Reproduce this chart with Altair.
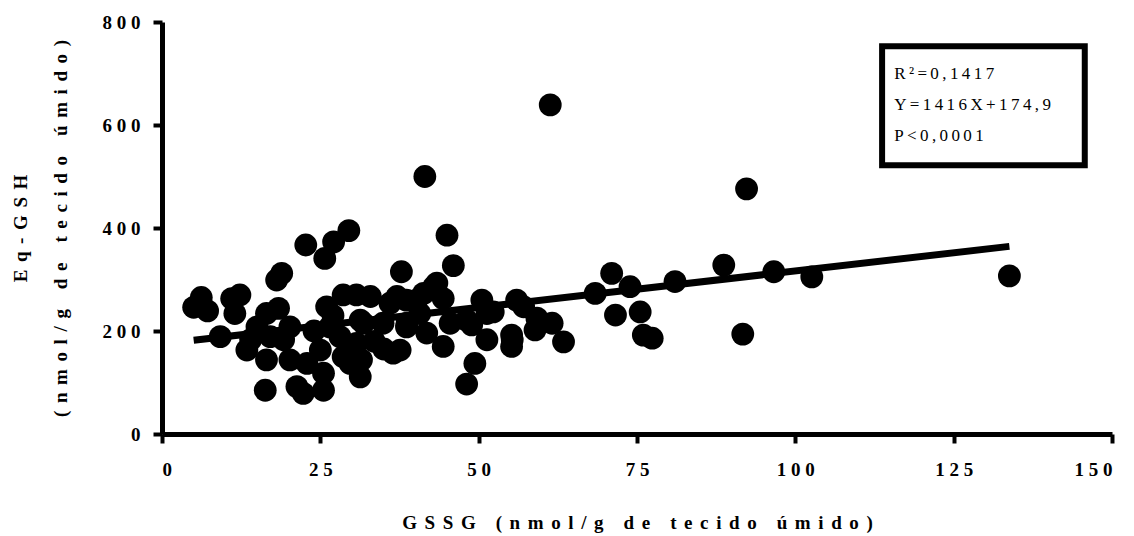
import altair as alt
import pandas as pd

# GSSG (x) and Eq-GSH (y) per sample, nmol/g of wet tissue
gssg = [
    5.0, 6.2, 7.2, 9.2, 11.0, 12.3, 11.5, 18.9, 18.1, 16.3, 13.4, 15.0, 16.5,
    18.4, 16.5, 14.0, 17.1, 19.2,
    20.2, 20.2, 21.3, 22.3, 22.7, 22.9, 25.5, 25.7, 27.1, 29.5, 26.0, 28.6,
    30.7, 26.5, 25.0, 25.5, 28.6, 29.7, 28.1, 30.7, 31.3, 24.0, 27.0,
    32.9, 31.8, 34.9, 36.5, 37.1, 38.7, 36.0, 37.8, 41.5, 45.0, 46.0, 41.3,
    43.4, 44.4, 38.6, 40.7, 41.8, 44.4, 45.5, 37.6, 38.6, 42.9, 40.2, 31.3,
    31.5, 33.5, 35.0, 48.9, 48.1, 49.4, 48.1,
    50.5, 51.3, 52.3, 51.3, 55.3, 55.2, 55.2, 56.0, 57.1, 59.2, 58.9, 61.6,
    63.4, 61.3,
    68.4, 71.0, 71.6, 73.9, 75.5, 76.0, 77.4, 81.0, 88.7, 91.7, 92.3, 96.6,
    102.6, 133.8,
]
eq_gsh = [
    246, 265, 239, 189, 263, 270, 234, 312, 299, 85, 163, 208, 234,
    244, 144, 183, 189, 183,
    208, 144, 92, 79, 367, 137, 85, 341, 373, 395, 247, 270,
    270, 208, 163, 118, 150, 137, 189, 176, 111, 200, 230,
    267, 215, 215, 157, 267, 215, 254, 315, 500, 386, 327, 273,
    293, 263, 260, 234, 196, 170, 215, 163, 208, 286, 260, 221,
    144, 180, 165, 212, 221, 137, 97,
    260, 234, 237, 183, 183, 192, 170, 260, 247, 225, 202, 215,
    179, 639,
    273, 312, 231, 286, 237, 192, 186, 296, 328, 194, 476, 315,
    305, 307,
]

# Linear fit reported in the inset: Y = 1.416 X + 174.9
fit_slope = 1.416
fit_intercept = 174.9
fit_x = [5.0, 133.8]

# Inset box (data units) and its three lines of text
box_x = [113.7, 145.7]
box_y = [753, 522]
inset_lines = ["R²=0,1417", "Y=1416X+174,9", "P<0,0001"]
inset_text_x = 115.6
inset_text_y = [700, 638, 578]

x_ticks = [0, 25, 50, 75, 100, 125, 150]
y_ticks = [0, 200, 400, 600, 800]

SERIF = "Liberation Serif"


def spread(text, gap="\u2009"):
    """Space the characters of a label out with a narrow gap."""
    return gap.join(text)


points = pd.DataFrame({"gssg": gssg, "eq": eq_gsh})
fit = pd.DataFrame({"gssg": fit_x, "eq": [fit_slope * v + fit_intercept for v in fit_x]})
box = pd.DataFrame({"x": [box_x[0]], "x2": [box_x[1]], "y": [box_y[0]], "y2": [box_y[1]]})
inset = pd.DataFrame({"x": [inset_text_x] * 3, "y": inset_text_y, "t": [spread(s) for s in inset_lines]})

x_scale = alt.Scale(domain=[0, 150], nice=False, zero=False)
y_scale = alt.Scale(domain=[0, 800], nice=False, zero=False)

WIDE = "\u2009\u2009"

axis_common = dict(
    labelFont=SERIF,
    labelFontWeight="bold",
    labelFontSize=19,
    labelColor="black",
    labelExpr="join(split(datum.label, ''), ' ')",
    domainColor="black",
    domainWidth=5,
    tickColor="black",
    tickWidth=4,
    tickSize=9,
    grid=False,
    titleFont=SERIF,
    titleFontWeight="bold",
    titleFontSize=19,
    titleColor="black",
)

x_axis = alt.Axis(
    values=x_ticks,
    title=spread("GSSG (nmol/g de tecido úmido)", WIDE),
    labelPadding=17,
    titlePadding=34,
    **axis_common,
)
y_axis = alt.Axis(
    values=y_ticks,
    title=[spread("Eq-GSH", WIDE), spread("(nmol/g de tecido úmido)", WIDE)],
    titleLineHeight=40,
    labelPadding=13,
    titlePadding=32,
    **axis_common,
)

scatter = alt.Chart(points).mark_circle(size=520, color="black", opacity=1).encode(
    x=alt.X("gssg:Q", scale=x_scale, axis=x_axis),
    y=alt.Y("eq:Q", scale=y_scale, axis=y_axis),
)

line = alt.Chart(fit).mark_line(color="black", strokeWidth=7).encode(
    x=alt.X("gssg:Q", scale=x_scale),
    y=alt.Y("eq:Q", scale=y_scale),
)

frame = alt.Chart(box).mark_rect(fill="white", stroke="black", strokeWidth=6).encode(
    x="x:Q", x2="x2:Q", y="y:Q", y2="y2:Q"
)

labels = alt.Chart(inset).mark_text(
    font=SERIF, fontSize=17, color="black", align="left", baseline="middle"
).encode(x="x:Q", y="y:Q", text="t:N")

chart = (
    alt.layer(line, scatter, frame, labels)
    .properties(
        width=950,
        height=412,
        autosize=alt.AutoSizeParams(type="none"),
        padding={"left": 162, "top": 22, "right": 22, "bottom": 102},
        background="white",
    )
    .configure_view(strokeWidth=0)
)

chart.save("out.html", embed_options={"renderer": "svg", "actions": False})
